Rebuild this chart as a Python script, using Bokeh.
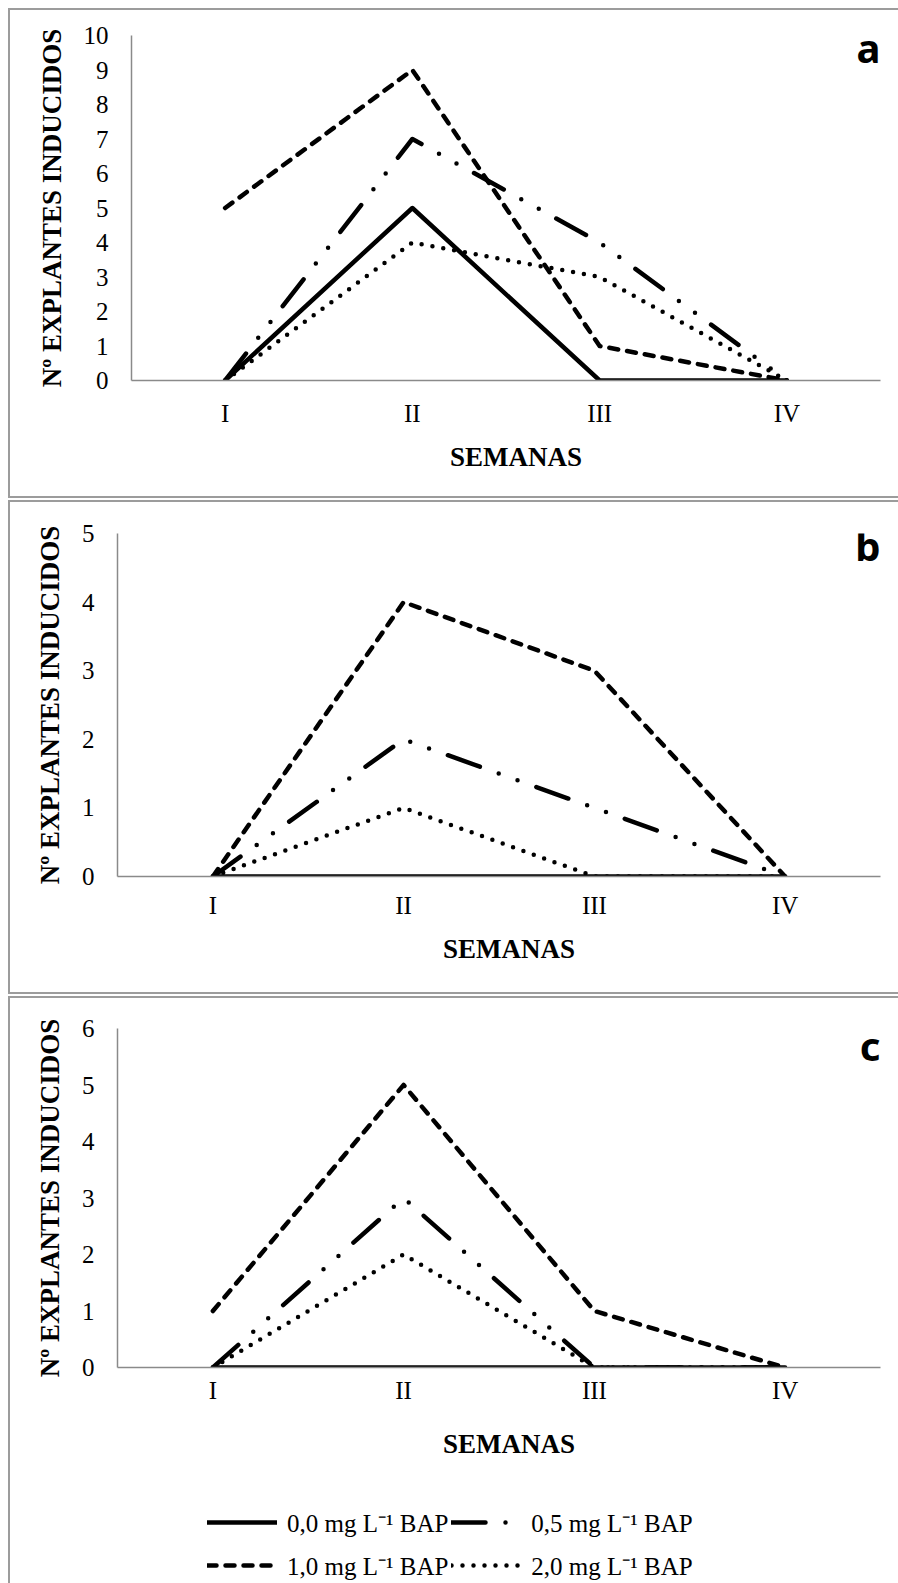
from bokeh.plotting import figure
from bokeh.models import Range1d, FixedTicker, Legend, LegendItem, Label
from bokeh.layouts import column
from bokeh.embed import file_html
from bokeh.resources import INLINE

# ---- data ----
weeks = ["I", "II", "III", "IV"]
series_labels = ["0,0 mg L\u207b\u00b9 BAP", "0,5 mg L\u207b\u00b9 BAP",
                 "1,0 mg L\u207b\u00b9 BAP", "2,0 mg L\u207b\u00b9 BAP"]

a_bap00 = [0, 5, 0, 0]
a_bap05 = [0, 7, 4, 0]
a_bap10 = [5, 9, 1, 0]
a_bap20 = [0, 4, 3, 0]

b_bap00 = [0, 0, 0, 0]
b_bap05 = [0, 2, 1, 0]
b_bap10 = [0, 4, 3, 0]
b_bap20 = [0, 1, 0, 0]

c_bap00 = [0, 0, 0, 0]
c_bap05 = [0, 3, 0, 0]
c_bap10 = [1, 5, 1, 0]
c_bap20 = [0, 2, 0, 0]

a_yticks = list(range(0, 11))
b_yticks = list(range(0, 6))
c_yticks = list(range(0, 7))

panel_letters = ["a", "b", "c"]
y_title = "N\u00ba EXPLANTES INDUCIDOS"
x_title = "SEMANAS"

# category centres on a numeric axis (one unit per week)
week_pos = [i + 0.5 for i in range(len(weeks))]
n_weeks = len(weeks)

# ---- styles ----
SERIF = "Liberation Serif"
BORDER = "2px solid #9c9c9c"
AXIS_COLOR = "#8a8a8a"
W = 890
dash_styles = [
    dict(line_dash="solid"),
    dict(line_dash="34 20 0 20 0 20"),
    dict(line_dash="9 9"),
    dict(line_dash="0 11"),
]


def no_align(p):
    try:
        p.frame_align = False
    except Exception:
        pass


def make_panel(series, yticks, letter, height, left, top, bottom, unit_px, letter_y,
               tick_standoff=13, title_standoff=12):
    p = figure(
        x_range=Range1d(0, (W - left) / unit_px),
        y_range=Range1d(yticks[0], yticks[-1]),
        width=W, height=height,
        min_border_left=left, min_border_right=0,
        min_border_top=top, min_border_bottom=bottom,
        output_backend="svg", toolbar_location=None,
    )
    no_align(p)
    p.outline_line_color = None
    p.xgrid.grid_line_color = None
    p.ygrid.grid_line_color = None
    p.background_fill_color = "white"
    p.border_fill_color = "white"

    for ax in (p.xaxis[0], p.yaxis[0]):
        ax.axis_line_color = AXIS_COLOR
        ax.axis_line_width = 1.5
        ax.major_tick_line_color = None
        ax.minor_tick_line_color = None
        ax.major_label_text_font = SERIF
        ax.major_label_text_font_size = "25px"
        ax.major_label_text_color = "black"
        ax.axis_label_text_font = SERIF
        ax.axis_label_text_font_style = "bold"
        ax.axis_label_text_font_size = "27px"
        ax.axis_label_text_color = "black"

    p.yaxis[0].ticker = FixedTicker(ticks=yticks)
    p.yaxis[0].major_label_standoff = 17
    p.yaxis[0].axis_label = y_title
    p.yaxis[0].axis_label_standoff = 14

    p.xaxis[0].ticker = FixedTicker(ticks=week_pos)
    p.xaxis[0].major_label_overrides = {pos: w for pos, w in zip(week_pos, weeks)}
    p.xaxis[0].bounds = (0, n_weeks)
    p.xaxis[0].major_label_standoff = tick_standoff
    p.xaxis[0].axis_label = x_title
    p.xaxis[0].axis_label_standoff = title_standoff

    for vals, st in zip(series, dash_styles):
        p.line(week_pos, vals, line_color="black", line_width=4.5,
               line_cap="round", line_join="round", **st)

    p.add_layout(Label(x=n_weeks, y=letter_y, text=letter,
                       text_font="Noto Sans", text_font_style="bold",
                       text_font_size="40px", text_align="right",
                       text_baseline="alphabetic", text_color="black"))
    return p


pa = make_panel([a_bap00, a_bap05, a_bap10, a_bap20], a_yticks, panel_letters[0],
                490, 121, 25, 120, 187.25, 9.66)
pb = make_panel([b_bap00, b_bap05, b_bap10, b_bap20], b_yticks, panel_letters[1],
                494, 107, 31, 120, 190.75, 4.83, tick_standoff=9, title_standoff=12)
pc = make_panel([c_bap00, c_bap05, c_bap10, c_bap20], c_yticks, panel_letters[2],
                482, 107, 30, 113, 190.75, 5.70, tick_standoff=3, title_standoff=22)

pa.styles = {"border-left": BORDER, "border-top": BORDER, "border-bottom": BORDER}
pb.styles = {"border-left": BORDER, "border-top": BORDER, "border-bottom": BORDER}
pc.styles = {"border-left": BORDER, "border-top": BORDER}

# legend strip under panel c (same box)
pl = figure(width=W, height=105, x_range=Range1d(0, 1), y_range=Range1d(0, 1),
            min_border=0, x_axis_type=None, y_axis_type=None,
            output_backend="svg", toolbar_location=None)
no_align(pl)
pl.outline_line_color = None
pl.xgrid.grid_line_color = None
pl.ygrid.grid_line_color = None
pl.styles = {"border-left": BORDER}
nan = float("nan")
proxies = [pl.line([nan], [nan], line_color="black", line_width=4.5, line_cap="round",
                   line_join="round", **st) for st in dash_styles]
legend = Legend(
    items=[LegendItem(label=lab, renderers=[r]) for lab, r in zip(series_labels, proxies)],
    location=(197, -2), orientation="horizontal", ncols=2,
    glyph_width=70, glyph_height=40, label_height=40, label_standoff=10,
    spacing=3, padding=0, margin=0,
    label_text_font=SERIF, label_text_font_size="25px", label_text_color="black",
    border_line_color=None, background_fill_alpha=0,
)
pl.add_layout(legend)

layout = column(pa, pb, column(pc, pl, spacing=0), spacing=2, margin=(8, 0, 0, 8))
open("out.html", "w").write(file_html(layout, INLINE))
